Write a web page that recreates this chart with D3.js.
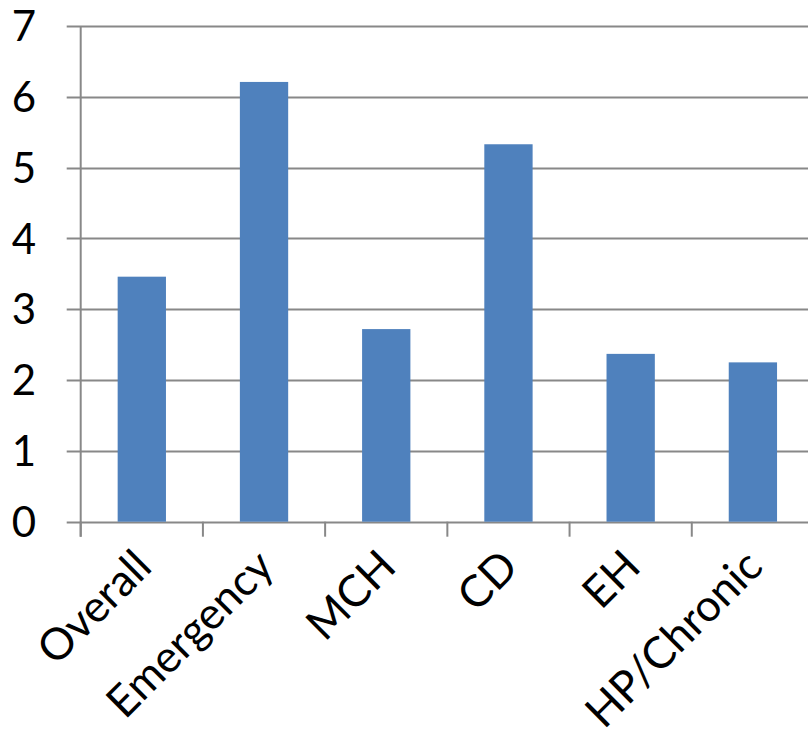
<!DOCTYPE html>
<html>
<head>
<meta charset="utf-8">
<script src="https://cdn.jsdelivr.net/npm/d3@7"></script>
<style>
  html, body { margin: 0; padding: 0; background: #fff; }
  svg { display: block; }
</style>
</head>
<body>
<svg id="chart" width="808" height="741"></svg>
<script>
const categories = ["Overall", "Emergency", "MCH", "CD", "EH", "HP/Chronic"];
const values = [3.46, 6.21, 2.72, 5.33, 2.37, 2.25];
const yTicks = [0, 1, 2, 3, 4, 5, 6, 7];

(function () {
const svg = d3.select("#chart");
const pLeft = 80.7, pRight = 814, pTop = 26, pBottom = 521.7;
const font = "Lato, 'Open Sans', sans-serif";
const gridColor = "#888888";

const x = d3.scaleBand().domain(categories).range([pLeft, pRight]).padding(0);
const y = d3.scaleLinear().domain([0, 7]).range([pBottom, pTop]);

// gridlines + y ticks
svg.append("g").selectAll("line").data(yTicks).join("line")
  .attr("x1", pLeft - 14).attr("x2", pRight)
  .attr("y1", d => Math.round(y(d)) + 0.5).attr("y2", d => Math.round(y(d)) + 0.5)
  .attr("stroke", gridColor).attr("stroke-width", 2);

// y axis line
svg.append("line")
  .attr("x1", pLeft).attr("x2", pLeft)
  .attr("y1", pTop).attr("y2", pBottom + 15)
  .attr("stroke", gridColor).attr("stroke-width", 2);

// x tick marks at category boundaries
const bounds = categories.map(c => x(c)).concat([pRight]);
svg.append("g").selectAll("line").data(bounds).join("line")
  .attr("x1", d => d).attr("x2", d => d)
  .attr("y1", pBottom).attr("y2", pBottom + 15)
  .attr("stroke", gridColor).attr("stroke-width", 2);

// bars
const barW = x.bandwidth() / 2.53;
svg.append("g").selectAll("rect").data(values).join("rect")
  .attr("x", (d, i) => x(categories[i]) + x.bandwidth() / 2 - barW / 2)
  .attr("width", barW)
  .attr("y", d => y(d))
  .attr("height", d => y(0) - y(d))
  .attr("fill", "#4F81BD");

// y labels
svg.append("g").selectAll("text").data(yTicks).join("text")
  .attr("x", 36).attr("y", d => y(d))
  .attr("dy", "0.36em")
  .attr("text-anchor", "end")
  .attr("font-family", font).attr("font-size", 42)
  .attr("fill", "#000")
  .text(d => d);

// x labels
svg.append("g").selectAll("text").data(categories).join("text")
  .attr("transform", c => `translate(${x(c) + x.bandwidth() / 2 + 12},${569}) rotate(-45)`)
  .attr("text-anchor", "end")
  .attr("font-family", font).attr("font-size", 44)
  .attr("fill", "#000")
  .text(c => c);
})();
</script>
</body>
</html>
